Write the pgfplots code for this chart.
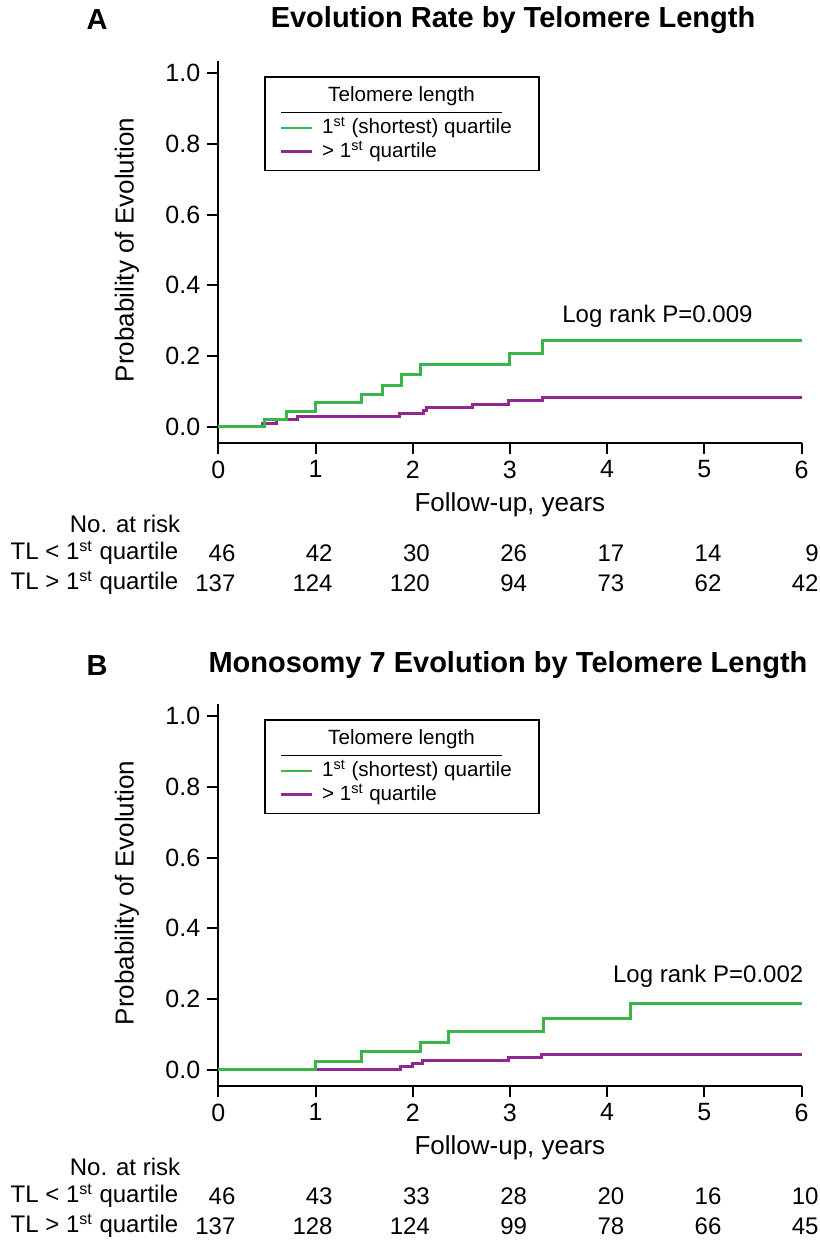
\documentclass[border=0pt]{standalone}
\usepackage{fontspec}
\setmainfont{Liberation Sans}
\usepackage{pgfplots}
\pgfplotsset{compat=1.18}

\definecolor{kmgreen}{RGB}{57,181,74}
\definecolor{kmpurple}{RGB}{146,39,143}

\newcommand\tickfont{\fontsize{12.5}{15}\selectfont}
\newcommand\labfont{\fontsize{13}{15}\selectfont}
\newcommand\legfont{\fontsize{10.3}{12}\selectfont}
\newcommand\riskfont{\fontsize{12}{14}\selectfont}

\pgfplotsset{
  kmaxis/.style={
    x=48.6pt, y=176.7pt,
    xmin=0, xmax=6, ymin=-0.0453, ymax=1.035,
    axis lines=left,
    axis line style={-, line width=1pt},
    tick style={black, line width=1pt},
    tick align=outside,
    major tick length=5.5pt,
    xtick={0,...,6},
    ytick={0,0.2,0.4,0.6,0.8,1.0},
    y tick label style={/pgf/number format/fixed,
      /pgf/number format/fixed zerofill,
      /pgf/number format/precision=1},
    /pgf/number format/assume math mode=true,
    ticklabel style={font=\tickfont},
    clip=false,
    anchor=south west,
  },
  kmg/.style={const plot, color=kmgreen, line width=1.5pt},
  kmp/.style={const plot, color=kmpurple, line width=1.5pt},
}

% legend box, drawn in axis units
\newcommand\kmlegend{%
  \draw[line width=0.8pt] (axis cs:0.48,0.725) rectangle (axis cs:3.30,0.99);
  \node[font=\legfont] at (axis cs:1.885,0.934) {Telomere length};
  \draw[line width=0.6pt] (axis cs:0.65,0.888) -- (axis cs:2.92,0.888);
  \draw[kmgreen, line width=1.2pt] (axis cs:0.65,0.846) -- (axis cs:0.959,0.846);
  \node[font=\legfont, anchor=west, inner sep=0pt] at (axis cs:1.064,0.846) {1\textsuperscript{st} (shortest) quartile};
  \draw[kmpurple, line width=1.2pt] (axis cs:0.65,0.779) -- (axis cs:0.959,0.779);
  \node[font=\legfont, anchor=west, inner sep=0pt] at (axis cs:1.064,0.779) {> 1\textsuperscript{st} quartile};
  \node[font=\labfont] at (axis cs:3,-0.2216) {Follow-up, years};
  \node[font=\labfont, rotate=90] at (axis cs:-0.94,0.5) {Probability of Evolution};
  \node[font=\riskfont] at (axis cs:-0.96,-0.275) {No. at risk};
  \node[font=\riskfont, anchor=west, inner sep=0pt] at (axis cs:-2.14,-0.357) {TL < 1\textsuperscript{st} quartile};
  \node[font=\riskfont, anchor=west, inner sep=0pt] at (axis cs:-2.14,-0.442) {TL > 1\textsuperscript{st} quartile};
}

\begin{document}
\begin{tikzpicture}
\path[use as bounding box] (0,0) rectangle (409.5pt,-620.5pt);

% ---------------- panel A ----------------
\begin{axis}[kmaxis, at={(109.15pt,-221.35pt)}]
\addplot[kmp] coordinates {
  (0,0) (0.456,0.009) (0.594,0.021) (0.813,0.030) (1.869,0.036)
  (2.113,0.045) (2.143,0.055) (2.613,0.064) (2.984,0.073) (3.335,0.084) (6,0.084)
};
\addplot[kmg] coordinates {
  (0,0) (0.474,0.021) (0.700,0.044) (0.995,0.068) (1.478,0.091)
  (1.694,0.117) (1.886,0.148) (2.078,0.177) (2.998,0.208) (3.337,0.245) (6,0.245)
};
\kmlegend
\node[font=\riskfont] at (axis cs:4.518,0.311) {Log rank P=0.009};
\node[font=\bfseries\fontsize{14.5}{17}\selectfont] at (axis cs:3.032,1.151) {Evolution Rate by Telomere Length};
\node[font=\bfseries\fontsize{14.5}{17}\selectfont] at (axis cs:-1.248,1.151) {A};
% numbers at risk
\node[font=\riskfont, anchor=east, inner sep=0pt] at (axis cs:0.18,-0.357) {46};
\node[font=\riskfont, anchor=east, inner sep=0pt] at (axis cs:1.18,-0.357) {42};
\node[font=\riskfont, anchor=east, inner sep=0pt] at (axis cs:2.18,-0.357) {30};
\node[font=\riskfont, anchor=east, inner sep=0pt] at (axis cs:3.18,-0.357) {26};
\node[font=\riskfont, anchor=east, inner sep=0pt] at (axis cs:4.18,-0.357) {17};
\node[font=\riskfont, anchor=east, inner sep=0pt] at (axis cs:5.18,-0.357) {14};
\node[font=\riskfont, anchor=east, inner sep=0pt] at (axis cs:6.18,-0.357) {9};
\node[font=\riskfont, anchor=east, inner sep=0pt] at (axis cs:0.18,-0.442) {137};
\node[font=\riskfont, anchor=east, inner sep=0pt] at (axis cs:1.18,-0.442) {124};
\node[font=\riskfont, anchor=east, inner sep=0pt] at (axis cs:2.18,-0.442) {120};
\node[font=\riskfont, anchor=east, inner sep=0pt] at (axis cs:3.18,-0.442) {94};
\node[font=\riskfont, anchor=east, inner sep=0pt] at (axis cs:4.18,-0.442) {73};
\node[font=\riskfont, anchor=east, inner sep=0pt] at (axis cs:5.18,-0.442) {62};
\node[font=\riskfont, anchor=east, inner sep=0pt] at (axis cs:6.18,-0.442) {42};
\end{axis}

% ---------------- panel B ----------------
\begin{axis}[kmaxis, at={(109.15pt,-542.85pt)}]
\addplot[kmp] coordinates {
  (0,0) (1.873,0.009) (1.993,0.018) (2.103,0.025) (2.984,0.034) (3.330,0.044) (6,0.044)
};
\addplot[kmg] coordinates {
  (0,0) (0.995,0.0245) (1.478,0.052) (2.085,0.078) (2.370,0.108)
  (3.344,0.1435) (4.236,0.188) (6,0.188)
};
\kmlegend
\node[font=\riskfont] at (axis cs:5.04,0.265) {Log rank P=0.002};
\node[font=\bfseries\fontsize{14.5}{17}\selectfont] at (axis cs:2.98,1.145) {Monosomy 7 Evolution by Telomere Length};
\node[font=\bfseries\fontsize{14.5}{17}\selectfont] at (axis cs:-1.248,1.145) {B};
\node[font=\riskfont, anchor=east, inner sep=0pt] at (axis cs:0.18,-0.357) {46};
\node[font=\riskfont, anchor=east, inner sep=0pt] at (axis cs:1.18,-0.357) {43};
\node[font=\riskfont, anchor=east, inner sep=0pt] at (axis cs:2.18,-0.357) {33};
\node[font=\riskfont, anchor=east, inner sep=0pt] at (axis cs:3.18,-0.357) {28};
\node[font=\riskfont, anchor=east, inner sep=0pt] at (axis cs:4.18,-0.357) {20};
\node[font=\riskfont, anchor=east, inner sep=0pt] at (axis cs:5.18,-0.357) {16};
\node[font=\riskfont, anchor=east, inner sep=0pt] at (axis cs:6.18,-0.357) {10};
\node[font=\riskfont, anchor=east, inner sep=0pt] at (axis cs:0.18,-0.442) {137};
\node[font=\riskfont, anchor=east, inner sep=0pt] at (axis cs:1.18,-0.442) {128};
\node[font=\riskfont, anchor=east, inner sep=0pt] at (axis cs:2.18,-0.442) {124};
\node[font=\riskfont, anchor=east, inner sep=0pt] at (axis cs:3.18,-0.442) {99};
\node[font=\riskfont, anchor=east, inner sep=0pt] at (axis cs:4.18,-0.442) {78};
\node[font=\riskfont, anchor=east, inner sep=0pt] at (axis cs:5.18,-0.442) {66};
\node[font=\riskfont, anchor=east, inner sep=0pt] at (axis cs:6.18,-0.442) {45};
\end{axis}
\end{tikzpicture}
\end{document}
